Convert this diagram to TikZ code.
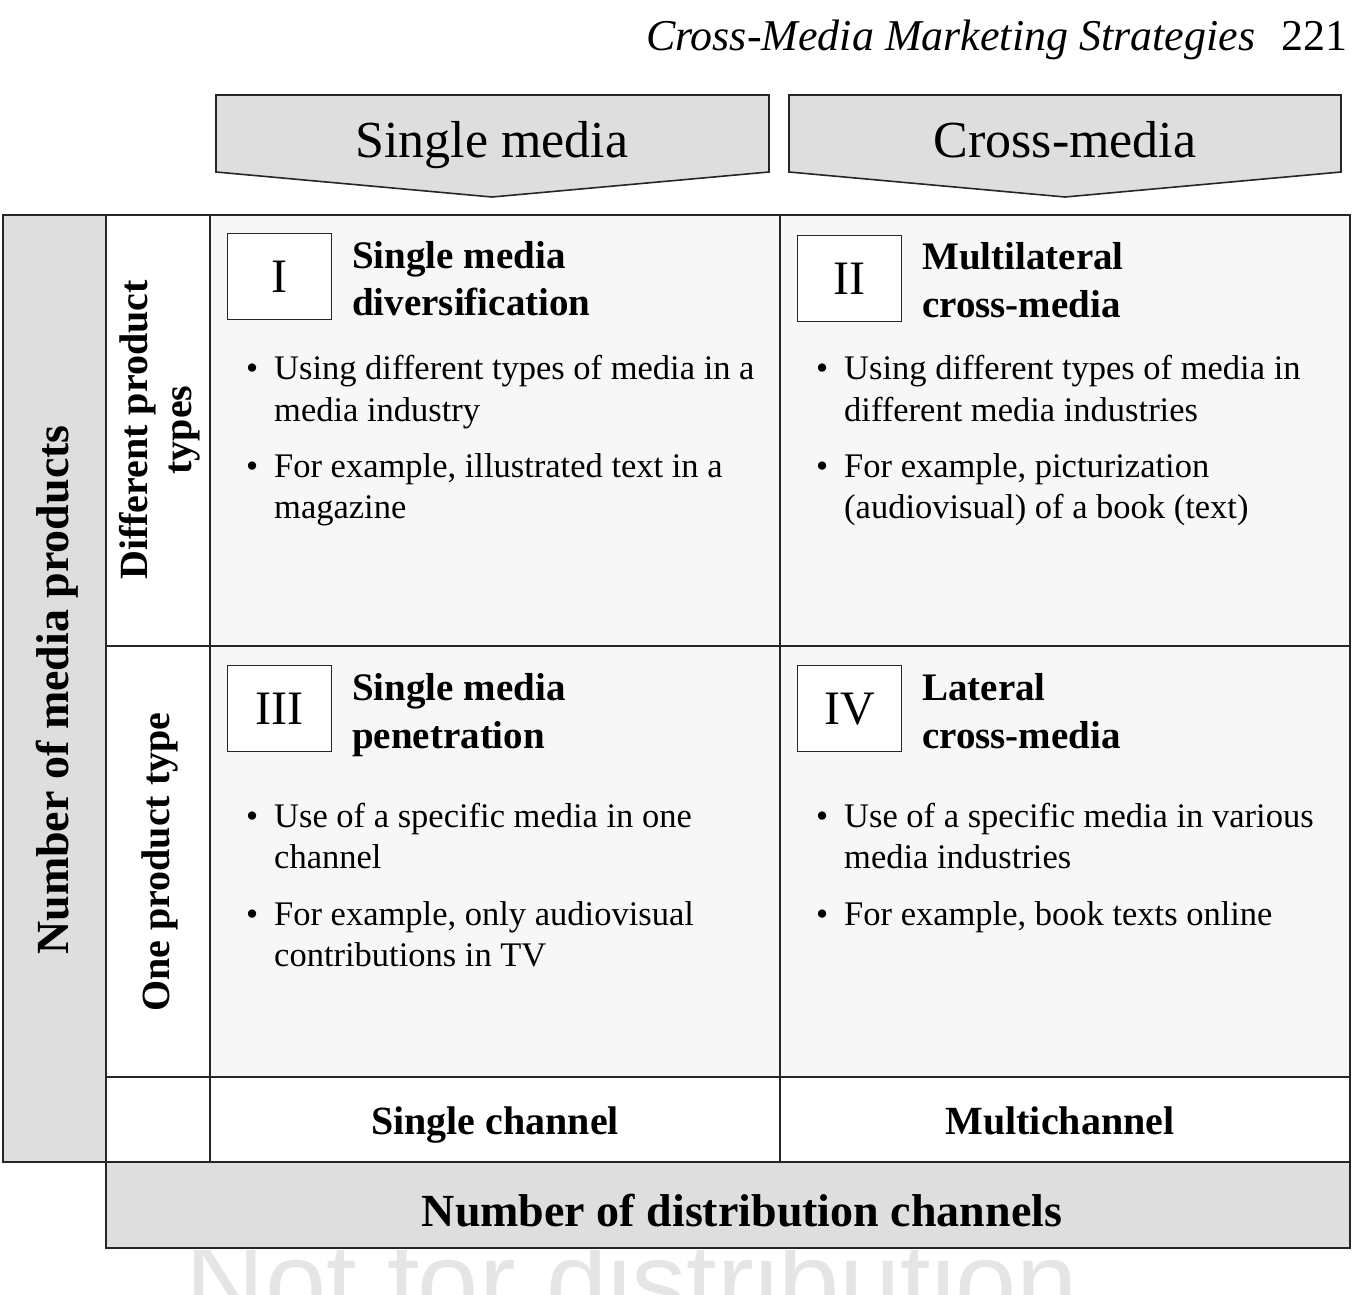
\documentclass[tikz,border=0pt]{standalone}
\usepackage{fontspec}
\setmainfont{Liberation Serif}
\newfontfamily\wmfont{Liberation Sans}
\begin{document}
\begin{tikzpicture}[x=1pt,y=-1pt,
  gfill/.style={draw=black!85,line width=1.6pt,fill=black!13},
  cell/.style={draw=black!85,line width=1.6pt,fill=black!3},
  wcell/.style={draw=black!85,line width=1.6pt,fill=white},
  rbox/.style={draw=black!85,line width=1.4pt,fill=white,minimum width=104pt,minimum height=86pt,inner sep=0pt,font=\fontsize{48}{48}\selectfont},
  ttl/.style={anchor=base west,inner sep=0pt,font=\fontsize{39}{39}\selectfont\bfseries},
  btxt/.style={anchor=base west,inner sep=0pt,font=\fontsize{34.5}{34.5}\selectfont},
  lbl/.style={inner sep=0pt,font=\fontsize{40}{44}\selectfont\bfseries}]
\useasboundingbox (0,0) rectangle (1355,1294);
\begin{scope}
\clip (0,1250) rectangle (1355,1294);
\node[text=black!10,font=\wmfont\fontsize{110}{110}\selectfont,anchor=north] (wm) at (632,1236) {Not for distribution};
\end{scope}
\node[anchor=base east,inner sep=0pt,font=\fontsize{44}{44}\selectfont] (hdr) at (1348,50) {\textit{Cross-Media Marketing Strategies}\hspace{0.6em}221};
% banners
\draw[gfill] (216,95) -- (769,95) -- (769,172) -- (492,197) -- (216,172) -- cycle;
\draw[gfill] (789,95) -- (1341,95) -- (1341,172) -- (1065,197) -- (789,172) -- cycle;
\node[anchor=base,inner sep=0pt,font=\fontsize{52}{52}\selectfont] (sm) at (492,157) {Single media};
\node[anchor=base,inner sep=0pt,font=\fontsize{52}{52}\selectfont] (cm) at (1065,157) {Cross-media};
% grid
\draw[gfill] (3,215) rectangle (106,1162);
\draw[wcell] (106,215) rectangle (210,646);
\draw[wcell] (106,646) rectangle (210,1077);
\draw[wcell] (106,1077) rectangle (210,1162);
\draw[cell] (210,215) rectangle (780,646);
\draw[cell] (780,215) rectangle (1350,646);
\draw[cell] (210,646) rectangle (780,1077);
\draw[cell] (780,646) rectangle (1350,1077);
\draw[wcell] (210,1077) rectangle (780,1162);
\draw[wcell] (780,1077) rectangle (1350,1162);
\draw[gfill] (106,1162) rectangle (1350,1248);
\node[lbl,rotate=90,font=\fontsize{46}{50}\selectfont\bfseries] (nmp) at (57,690) {Number of media products};
\node[lbl,rotate=90,align=center] (dpt) at (160,430) {Different product\\types};
\node[lbl,rotate=90] (opt) at (160,862) {One product type};
\node[lbl,anchor=base] (sc) at (495,1134) {Single channel};
\node[lbl,anchor=base] (mc) at (1060,1134) {Multichannel};
\node[lbl,anchor=base,font=\fontsize{46}{46}\selectfont\bfseries] (ndc) at (742,1226) {Number of distribution channels};
% quadrant I
\node[rbox,anchor=north west] (r1) at (227,233) {I};
\node[ttl] (t1a) at (352,268) {Single media};
\node[ttl] (t1b) at (352,315) {diversification};
\node[btxt] (b1a) at (246,379) {•};
\node[btxt] (x1a) at (274,379) {Using different types of media in a};
\node[btxt] (x1a2) at (274,421) {media industry};
\node[btxt] (b1b) at (246,477) {•};
\node[btxt] (x1b) at (274,477) {For example, illustrated text in a};
\node[btxt] (x1b2) at (274,518) {magazine};
% quadrant II
\node[rbox,anchor=north west] (r2) at (797,235) {II};
\node[ttl] (t2a) at (922,269) {Multilateral};
\node[ttl] (t2b) at (922,317) {cross-media};
\node[btxt] (b2a) at (816,379) {•};
\node[btxt] (x2a) at (844,379) {Using different types of media in};
\node[btxt] (x2a2) at (844,421) {different media industries};
\node[btxt] (b2b) at (816,477) {•};
\node[btxt] (x2b) at (844,477) {For example, picturization};
\node[btxt] (x2b2) at (844,518) {(audiovisual) of a book (text)};
% quadrant III
\node[rbox,anchor=north west] (r3) at (227,665) {III};
\node[ttl] (t3a) at (352,700) {Single media};
\node[ttl] (t3b) at (352,748) {penetration};
\node[btxt] (b3a) at (246,827) {•};
\node[btxt] (x3a) at (274,827) {Use of a specific media in one};
\node[btxt] (x3a2) at (274,868) {channel};
\node[btxt] (b3b) at (246,925) {•};
\node[btxt] (x3b) at (274,925) {For example, only audiovisual};
\node[btxt] (x3b2) at (274,966) {contributions in TV};
% quadrant IV
\node[rbox,anchor=north west] (r4) at (797,665) {IV};
\node[ttl] (t4a) at (922,700) {Lateral};
\node[ttl] (t4b) at (922,748) {cross-media};
\node[btxt] (b4a) at (816,827) {•};
\node[btxt] (x4a) at (844,827) {Use of a specific media in various};
\node[btxt] (x4a2) at (844,868) {media industries};
\node[btxt] (b4b) at (816,925) {•};
\node[btxt] (x4b) at (844,925) {For example, book texts online};
\end{tikzpicture}
\end{document}
